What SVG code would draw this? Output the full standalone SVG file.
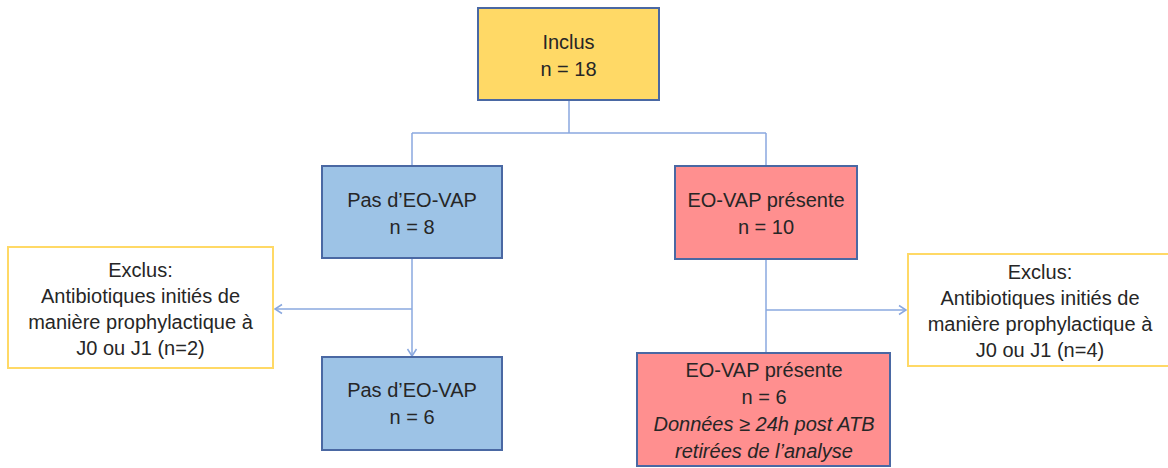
<svg xmlns="http://www.w3.org/2000/svg" width="1168" height="468" viewBox="0 0 1168 468">
<style>
.box{stroke:#4A68A3;stroke-width:2}
.yellow{fill:#FFD966}
.blue{fill:#9DC3E6}
.red{fill:#FF8F8F}
.excl{fill:#FFFFFF;stroke:#FFD966;stroke-width:2}
.conn{fill:none;stroke:#8AA8DF;stroke-width:1.5}
text{font-family:"Liberation Sans",Arial,sans-serif;font-size:20px;fill:#262626;text-anchor:middle}
.it{font-style:italic}
</style>
<defs>
<marker id="arr" markerWidth="12" markerHeight="12" refX="10" refY="6" orient="auto" markerUnits="userSpaceOnUse">
<polyline points="3,1.5 10,6 3,10.5" fill="none" stroke="#8AA8DF" stroke-width="1.5"/>
</marker>
</defs>
<rect width="1168" height="468" fill="#FFFFFF"/>
<g id="connectors">
<path class="conn" d="M569,100 V133 M412,133 H766 M412,133 V166 M766,133 V166"/>
<path class="conn" d="M412,259 V356" marker-end="url(#arr)"/>
<path class="conn" d="M412,309 H275" marker-end="url(#arr)"/>
<path class="conn" d="M766,259 V353"/>
<path class="conn" d="M766,310 H906" marker-end="url(#arr)"/>
</g>
<g id="inclus">
<rect class="box yellow" x="478" y="8" width="181" height="92"/>
<text x="568.5" y="49">Inclus</text>
<text x="568.5" y="76">n = 18</text>
</g>
<g id="pas-eovap-8">
<rect class="box blue" x="322" y="166" width="180" height="92"/>
<text x="412" y="207">Pas d’EO-VAP</text>
<text x="412" y="234">n = 8</text>
</g>
<g id="eovap-10">
<rect class="box red" x="675" y="166" width="182" height="93"/>
<text x="766" y="207">EO-VAP présente</text>
<text x="766" y="234">n = 10</text>
</g>
<g id="exclus-left">
<rect class="excl" x="8" y="247" width="265" height="121"/>
<text x="140.5" y="277">Exclus:</text>
<text x="140.5" y="303">Antibiotiques initiés de</text>
<text x="140.5" y="329">manière prophylactique à</text>
<text x="140.5" y="355">J0 ou J1 (n=2)</text>
</g>
<g id="exclus-right">
<rect class="excl" x="908" y="254" width="266" height="112"/>
<text x="1040" y="279">Exclus:</text>
<text x="1040" y="305">Antibiotiques initiés de</text>
<text x="1040" y="331">manière prophylactique à</text>
<text x="1040" y="357">J0 ou J1 (n=4)</text>
</g>
<g id="pas-eovap-6">
<rect class="box blue" x="322" y="357" width="180" height="93"/>
<text x="412" y="397">Pas d’EO-VAP</text>
<text x="412" y="424">n = 6</text>
</g>
<g id="eovap-6">
<rect class="box red" x="637" y="353" width="253" height="113"/>
<text x="764" y="377">EO-VAP présente</text>
<text x="764" y="404">n = 6</text>
<text class="it" x="764" y="431">Données ≥ 24h post ATB</text>
<text class="it" x="764" y="458">retirées de l’analyse</text>
</g>
</svg>
